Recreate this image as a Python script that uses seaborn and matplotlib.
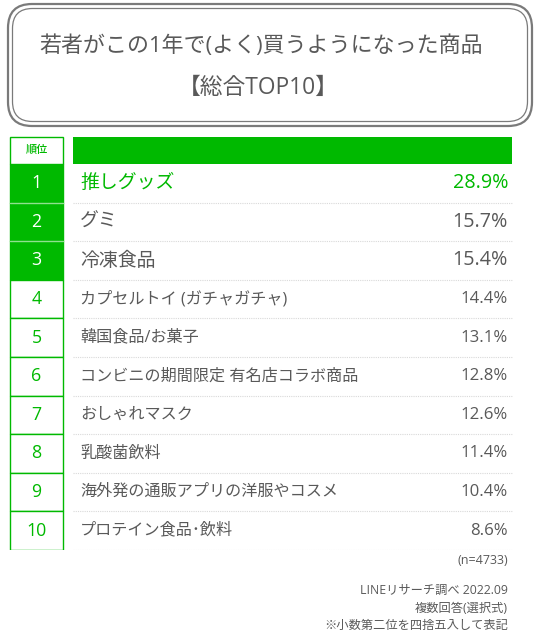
import pandas as pd
import seaborn as sns
import matplotlib.pyplot as plt
from matplotlib.patches import FancyBboxPatch, Rectangle

# data
ranks = ['1', '2', '3', '4', '5', '6', '7', '8', '9', '10']
items = ['推しグッズ', 'グミ', '冷凍食品', 'カプセルトイ (ガチャガチャ)', '韓国食品/お菓子',
         'コンビニの期間限定 有名店コラボ商品', 'おしゃれマスク', '乳酸菌飲料',
         '海外発の通販アプリの洋服やコスメ', 'プロテイン食品･飲料']
values = [28.9, 15.7, 15.4, 14.4, 13.1, 12.8, 12.6, 11.4, 10.4, 8.6]
title_lines = ['若者がこの1年で(よく)買うようになった商品', '【総合TOP10】']
notes = ['LINEリサーチ調べ 2022.09', '複数回答(選択式)', '※小数第二位を四捨五入して表記']
sample = '(n=4733)'

GREEN = '#00B900'
GRAY = '#595959'

sns.set_theme(style='white')
plt.rcParams['font.family'] = ['Open Sans', 'Noto Sans CJK JP', 'DejaVu Sans']

df = pd.DataFrame({'rank': ranks, 'item': items, 'value': values})
df['group'] = ['top' if i < 3 else 'rest' for i in range(len(df))]
df['cell'] = 53

fig = plt.figure(figsize=(5.4, 6.37), dpi=100)

# overlay in pixel coordinates
bg = fig.add_axes([0, 0, 1, 1])
bg.set_xlim(0, 540)
bg.set_ylim(637, 0)
bg.axis('off')

# double rounded title frame
bg.add_patch(FancyBboxPatch((8, 4), 524, 122, boxstyle='round,pad=0,rounding_size=24',
                            fc='none', ec='#7a7a7a', lw=1.6))
bg.add_patch(FancyBboxPatch((12.5, 8.5), 515, 113, boxstyle='round,pad=0,rounding_size=20',
                            fc='none', ec='#7a7a7a', lw=0.9))
bg.text(261, 46, title_lines[0], ha='center', va='center', fontsize=15.8, color=GRAY)
bg.text(258, 88, title_lines[1], ha='center', va='center', fontsize=16.4, color=GRAY)

# header row
bg.add_patch(Rectangle((10, 137), 53, 27, fc='white', ec=GREEN, lw=1))
bg.text(36.5, 151, '順位', ha='center', va='center', fontsize=8, color=GREEN,
        fontweight='medium')
bg.add_patch(Rectangle((73, 137), 439, 27, fc=GREEN, ec='none'))

# footer
bg.text(508, 560, sample, ha='right', va='center', fontsize=9, color=GRAY)
for k, line in enumerate(notes):
    bg.text(508, 590 + 18 * k, line, ha='right', va='center', fontsize=8.8, color=GRAY)

# ranking table
ax = fig.add_axes([0, (637 - 550) / 637, 1, 386 / 637])
sns.barplot(data=df, x='cell', y='rank', hue='group', dodge=False, width=1.0,
            palette={'top': GREEN, 'rest': 'white'}, saturation=1,
            edgecolor=GREEN, linewidth=1, legend=False, ax=ax)
ax.set_xlim(-10, 530)
ax.set_ylim(len(df) - 0.5, -0.5)
ax.axis('off')

for y in [0.5, 1.5]:
    ax.plot([0, 53], [y, y], color='#8fe08f', lw=1)

for i, row in df.iterrows():
    top = i < 3
    ax.text(26.5, i, row['rank'], ha='center', va='center', fontsize=12.8,
            color='white' if top else GREEN)
    col = GREEN if i == 0 else GRAY
    fs = 13.6 if top else 11.6
    vs = 14.2 if top else 12.1
    ax.text(70, i, row['item'], ha='left', va='center', fontsize=fs, color=col)
    ax.text(498, i, f"{row['value']:.1f}%", ha='right', va='center', fontsize=vs, color=col)
    ax.plot([63, 502], [i + 0.5, i + 0.5], color='#d9d9d9', lw=0.8, ls=(0, (1, 1)))

fig.savefig('out.png', dpi=100)
